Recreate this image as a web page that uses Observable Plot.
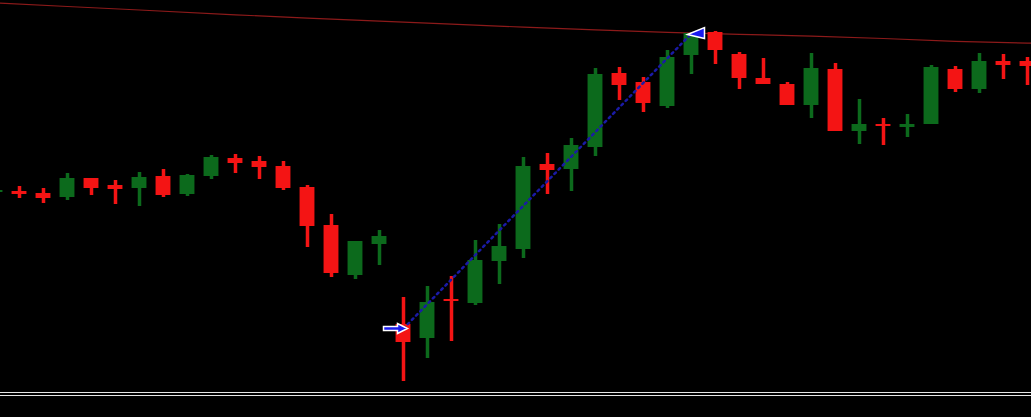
<!DOCTYPE html>
<html>
<head>
<meta charset="utf-8">
<script src="https://cdn.jsdelivr.net/npm/d3@7"></script>
<script src="https://cdn.jsdelivr.net/npm/@observablehq/plot@0.6"></script>
<style>
html,body{margin:0;padding:0;background:#000;overflow:hidden}
#chart svg{display:block}
</style>
</head>
<body>
<div id="chart"></div>
<script>
// bar index of each candle
const bar = [0,1,2,3,4,5,6,7,8,9,10,11,12,13,14,15,16,17,18,19,20,21,22,23,24,25,26,27,28,29,30,31,32,33,34,35,36,37,38,39,40,41,42,43];
const open  = [1.1208,1.1209,1.1207,1.1203,1.1222,1.1215,1.1212,1.1224,1.1206,1.1224,1.1242,1.1239,1.1234,1.1213,1.1175,1.1125,1.1156,1.1076,1.1062,1.1101,1.1097,1.1139,1.1151,1.1236,1.1231,1.1253,1.1327,1.1318,1.1294,1.1345,1.1368,1.1346,1.1322,1.1316,1.1295,1.1331,1.1269,1.1276,1.1273,1.1276,1.1331,1.1311,1.1339,1.1339];
const close = [1.1210,1.1206,1.1202,1.1222,1.1212,1.1211,1.1223,1.1205,1.1225,1.1243,1.1237,1.1233,1.1212,1.1174,1.1127,1.1159,1.1164,1.1058,1.1098,1.1099,1.1140,1.1154,1.1234,1.1230,1.1255,1.1326,1.1315,1.1297,1.1343,1.1367,1.1350,1.1322,1.1316,1.1295,1.1332,1.1269,1.1276,1.1274,1.1276,1.1333,1.1311,1.1339,1.1335,1.1334];
const high  = [1.1212,1.1214,1.1212,1.1227,1.1222,1.1220,1.1228,1.1231,1.1226,1.1245,1.1246,1.1244,1.1239,1.1215,1.1186,1.1159,1.1170,1.1103,1.1114,1.1124,1.1160,1.1176,1.1243,1.1247,1.1262,1.1332,1.1333,1.1323,1.1350,1.1367,1.1369,1.1348,1.1342,1.1318,1.1347,1.1337,1.1301,1.1282,1.1286,1.1335,1.1334,1.1347,1.1346,1.1343];
const low   = [1.1206,1.1202,1.1197,1.1200,1.1205,1.1196,1.1194,1.1203,1.1204,1.1221,1.1227,1.1221,1.1210,1.1153,1.1123,1.1121,1.1135,1.1019,1.1042,1.1059,1.1095,1.1116,1.1142,1.1206,1.1209,1.1244,1.1300,1.1288,1.1292,1.1326,1.1336,1.1311,1.1316,1.1295,1.1282,1.1269,1.1256,1.1255,1.1263,1.1276,1.1308,1.1307,1.1321,1.1315];

// moving average line (read at selected bars)
const maBar   = [0,3,6,10,13,16,19,22,25,28,31,34,37,40,43,44];
const maValue = [1.13976,1.1394,1.13905,1.13857,1.13824,1.13793,1.13763,1.13734,1.13706,1.13681,1.13662,1.13643,1.1362,1.13592,1.13574,1.13568];

// trade: entry and exit
const tradeBar   = [17, 29];
const tradePrice = [1.1072, 1.1367];

// bottom separator levels
const separator = [1.1008, 1.1005];

const candles = bar.map((b, i) => ({
  bar: b, open: open[i], close: close[i], high: high[i], low: low[i],
  up: close[i] >= open[i]
}));
const ma = maBar.map((b, i) => ({bar: b, value: maValue[i]}));
const trade = tradeBar.map((b, i) => ({bar: b, price: tradePrice[i]}));

const UP = "#0c6a1c", DOWN = "#f41414";
const half = 0.31;

const arrowRight = {
  draw(ctx) {
    ctx.moveTo(-12, -2); ctx.lineTo(2, -2); ctx.lineTo(2, -5);
    ctx.lineTo(12, 0); ctx.lineTo(2, 5); ctx.lineTo(2, 2);
    ctx.lineTo(-12, 2); ctx.closePath();
  }
};
const arrowLeft = {
  draw(ctx) {
    ctx.moveTo(-9, 1); ctx.lineTo(8, -6); ctx.lineTo(8, 5); ctx.closePath();
  }
};

const chart = Plot.plot({
  width: 1031,
  height: 417,
  margin: 0,
  x: {domain: [5/24, 1036/24], axis: null},
  y: {domain: [1.0983, 1.1400], axis: null},
  style: {background: "#000"},
  marks: [
    Plot.ruleY(separator, {stroke: "#e6e6e6", strokeWidth: 1}),
    Plot.line(ma, {x: "bar", y: "value", stroke: "#8c1a1a", strokeWidth: 1.2, clip: true}),
    Plot.ruleX(candles, {x: "bar", y1: "low", y2: "high", stroke: d => d.up ? UP : DOWN, strokeWidth: 3.5}),
    Plot.rect(candles, {
      x1: d => d.bar - half, x2: d => d.bar + half,
      y1: "open", y2: "close",
      fill: d => d.up ? UP : DOWN
    }),
    Plot.line(trade, {x: "bar", y: "price", stroke: "#1a1aa6", strokeWidth: 2.5, strokeDasharray: "2,4"}),
    Plot.dot([trade[0]], {x: "bar", y: "price", symbol: arrowRight, r: 5, dx: -8, fill: "#1a1aee", stroke: "#ffffff", strokeWidth: 1.5}),
    Plot.dot([trade[1]], {x: "bar", y: "price", symbol: arrowLeft, r: 5, dx: 5, fill: "#1a1aee", stroke: "#ffffff", strokeWidth: 1.5})
  ]
});
document.getElementById("chart").appendChild(chart);
</script>
</body>
</html>
